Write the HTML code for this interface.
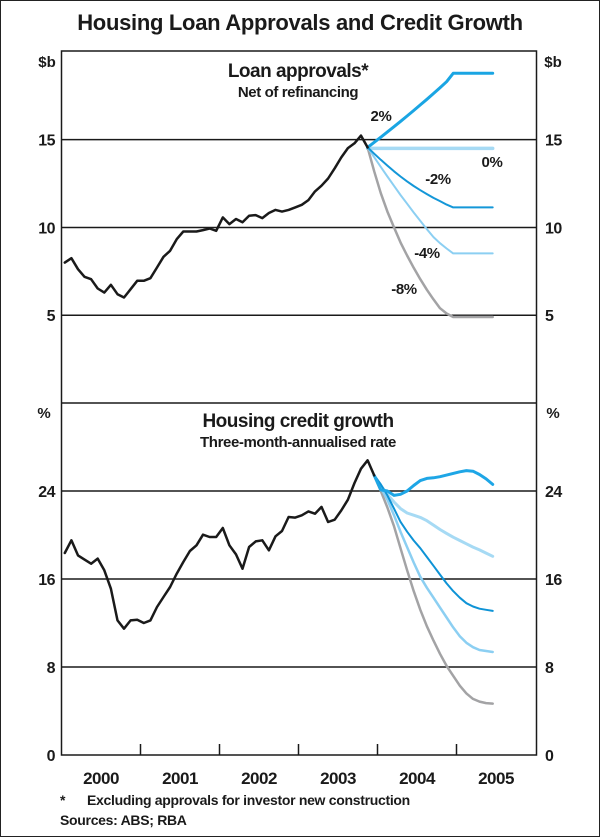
<!DOCTYPE html>
<html><head><meta charset="utf-8">
<style>
html,body{margin:0;padding:0;background:#fff;}
svg{display:block;font-family:"Liberation Sans",Arial,sans-serif;}
</style></head>
<body>
<svg id="chart" width="600" height="837" viewBox="0 0 600 837">
<rect x="0.5" y="0.5" width="599" height="836" fill="#fff" stroke="#222" stroke-width="1"/>
<text x="300" y="30" text-anchor="middle" font-size="22" font-weight="bold" letter-spacing="-0.3" fill="#1a1a1a">Housing Loan Approvals and Credit Growth</text>
<text x="298" y="77" text-anchor="middle" font-size="19" font-weight="bold" letter-spacing="-0.5" fill="#1a1a1a">Loan approvals*</text>
<text x="298" y="97" text-anchor="middle" font-size="15" font-weight="bold" letter-spacing="-0.4" fill="#1a1a1a">Net of refinancing</text>
<text x="298" y="427" text-anchor="middle" font-size="19" font-weight="bold" letter-spacing="-0.5" fill="#1a1a1a">Housing credit growth</text>
<text x="298" y="447" text-anchor="middle" font-size="15" font-weight="bold" letter-spacing="-0.4" fill="#1a1a1a">Three-month-annualised rate</text>
<text x="47" y="67" text-anchor="middle" font-size="15" font-weight="bold" fill="#1a1a1a">$b</text>
<text x="553" y="67" text-anchor="middle" font-size="15" font-weight="bold" fill="#1a1a1a">$b</text>
<text x="44" y="418" text-anchor="middle" font-size="15" font-weight="bold" fill="#1a1a1a">%</text>
<text x="553" y="418" text-anchor="middle" font-size="15" font-weight="bold" fill="#1a1a1a">%</text>
<g id="grid"></g>
<g id="series"></g>
<text x="381" y="121" text-anchor="middle" font-size="15" font-weight="bold" letter-spacing="-0.4" fill="#1a1a1a">2%</text>
<text x="492" y="167" text-anchor="middle" font-size="15" font-weight="bold" letter-spacing="-0.4" fill="#1a1a1a">0%</text>
<text x="438" y="184" text-anchor="middle" font-size="15" font-weight="bold" letter-spacing="-0.4" fill="#1a1a1a">-2%</text>
<text x="427" y="258" text-anchor="middle" font-size="15" font-weight="bold" letter-spacing="-0.4" fill="#1a1a1a">-4%</text>
<text x="404" y="294" text-anchor="middle" font-size="15" font-weight="bold" letter-spacing="-0.4" fill="#1a1a1a">-8%</text>
<rect x="61.5" y="51" width="475" height="704" fill="none" stroke="#1a1a1a" stroke-width="1.5"/>
<line x1="61.5" y1="403" x2="536.5" y2="403" stroke="#1a1a1a" stroke-width="1.5"/>
<text x="60" y="805" font-size="14" font-weight="bold" fill="#1a1a1a">*</text>
<text x="87" y="805" font-size="14" font-weight="bold" letter-spacing="-0.3" fill="#1a1a1a">Excluding approvals for investor new construction</text>
<text x="60" y="825" font-size="14" font-weight="bold" letter-spacing="-0.3" fill="#1a1a1a">Sources: ABS; RBA</text>
</svg>
<script>
const years = ["2000","2001","2002","2003","2004","2005"];
const loanTicks = [5,10,15];
const creditTicks = [0,8,16,24];
const loanHist = [8.0,8.25,7.62,7.19,7.05,6.52,6.29,6.73,6.20,6.01,6.48,6.96,6.96,7.11,7.72,8.33,8.67,9.33,9.77,9.77,9.77,9.85,9.94,9.81,10.57,10.19,10.48,10.29,10.67,10.70,10.53,10.82,11.0,10.9,11.0,11.14,11.29,11.56,12.05,12.38,12.79,13.37,13.99,14.52,14.79,15.23,14.56];
const loanP2 = [14.56,14.85,15.14,15.44,15.74,16.04,16.35,16.66,16.98,17.3,17.63,17.96,18.3,18.78,18.78,18.78,18.78,18.78,18.78,18.78];
const loanP0 = [14.5,14.5,14.5,14.5,14.5,14.5,14.5,14.5,14.5,14.5,14.5,14.5,14.5,14.5,14.5,14.5,14.5,14.5,14.5,14.5];
const loanM2 = [14.56,14.2,13.85,13.52,13.2,12.9,12.62,12.36,12.12,11.9,11.68,11.5,11.3,11.14,11.14,11.14,11.14,11.14,11.14,11.14];
const loanM4 = [14.56,14.0,13.45,12.9,12.37,11.85,11.35,10.85,10.37,9.9,9.45,9.1,8.8,8.52,8.52,8.52,8.52,8.52,8.52,8.52];
const loanM8 = [14.56,13.2,11.95,10.9,10.0,9.15,8.4,7.7,7.05,6.45,5.9,5.4,5.1,4.9,4.9,4.9,4.9,4.9,4.9,4.9];
const creditHist = [18.36,19.52,18.15,17.76,17.39,17.85,16.79,15.12,12.24,11.48,12.24,12.30,12.0,12.24,13.45,14.36,15.27,16.48,17.55,18.55,19.06,20.03,19.82,19.82,20.64,19.06,18.24,16.94,18.91,19.42,19.52,18.61,19.88,20.36,21.64,21.58,21.79,22.15,21.94,22.55,21.18,21.39,22.24,23.21,24.73,26.03,26.79,25.42];
const creditP2 = [25.42,24.1,24.0,23.6,23.7,24.0,24.5,24.95,25.15,25.2,25.3,25.45,25.6,25.75,25.85,25.8,25.5,25.1,24.6];
const creditP0 = [25.42,24.5,23.7,23.0,22.4,22.0,21.8,21.6,21.3,20.9,20.5,20.15,19.8,19.5,19.2,18.9,18.65,18.35,18.06];
const creditM2 = [25.42,24.6,23.6,22.4,21.2,20.3,19.5,18.8,18.0,17.2,16.4,15.6,14.9,14.3,13.8,13.5,13.3,13.2,13.1];
const creditM4 = [25.42,24.3,23.2,21.8,20.3,18.9,17.5,16.2,15.2,14.3,13.4,12.5,11.6,10.8,10.2,9.8,9.55,9.45,9.36];
const creditM8 = [25.42,24.0,22.5,20.8,18.8,16.8,14.9,13.2,11.7,10.4,9.2,8.1,7.2,6.3,5.6,5.1,4.85,4.72,4.67];

const NS="http://www.w3.org/2000/svg";
const X0=61.5, YW=79;
function xm(i){return X0+((i+0.5)/12)*YW;}
function yTop(v){return 403-v*(352/20.05);}
function yBot(v){return 755-v*(352/32);}
const grid=document.getElementById('grid');
const ser=document.getElementById('series');
function mk(tag,attrs,parent){const e=document.createElementNS(NS,tag);for(const k in attrs)e.setAttribute(k,attrs[k]);parent.appendChild(e);return e;}
function txt(x,y,s,anchor){const t=mk('text',{x:x,y:y,'font-size':16,'font-weight':'bold','letter-spacing':'-0.5','text-anchor':anchor,fill:'#1a1a1a'},grid);t.textContent=s;return t;}
loanTicks.forEach(v=>{
  const y=yTop(v);
  const l=mk('line',{x1:X0,x2:536.5,y1:y,y2:y,stroke:'#1a1a1a','stroke-width':1.5},grid);
  
  
  const a=txt(55,y+6,String(v),'end');
  
  
  const b=txt(545,y+6,String(v),'start');
  
  
});
creditTicks.forEach(v=>{
  const y=yBot(v);
  if(v>0){
    const l=mk('line',{x1:X0,x2:536.5,y1:y,y2:y,stroke:'#1a1a1a','stroke-width':1.5},grid);
    
    
  }
  const a=txt(55,y+6,String(v),'end');
  
  
  const b=txt(545,y+6,String(v),'start');
  
  
});
years.forEach((yr,k)=>{
  const xc=X0+(k+0.5)*YW;
  const t=txt(xc,784,yr,'middle');
  t.setAttribute('font-size','17');
  
  
  if(k>0){
    const x=X0+k*YW;
    const tk=mk('line',{x1:x,x2:x,y1:744,y2:755,stroke:'#1a1a1a','stroke-width':1.5},grid);
    
    
  }
});
function line(arr,start,yf,color,w,name){
  const pts=arr.map((v,i)=>xm(start+i).toFixed(1)+','+yf(v).toFixed(1)).join(' ');
  const p=mk('polyline',{points:pts,fill:'none',stroke:color,'stroke-width':w,'stroke-linejoin':'round','stroke-linecap':'round'},ser);
  
  
}
const ls=loanHist.length-1, cs=creditHist.length-1;
line(loanP0,ls,yTop,'#a6daf4',3.5,'loan-proj-0pct');
line(loanM8,ls,yTop,'#a3a3a5',2.5,'loan-proj-minus8pct');
line(loanM4,ls,yTop,'#8ccff2',2,'loan-proj-minus4pct');
line(loanM2,ls,yTop,'#1497d8',2,'loan-proj-minus2pct');
line(loanP2,ls,yTop,'#1aa5e3',3,'loan-proj-2pct');
line(loanHist,0,yTop,'#1a1a1a',2.5,'loan-approvals-line');
line(creditM8,cs,yBot,'#a3a3a5',2.5,'credit-proj-minus8pct');
line(creditM4,cs,yBot,'#8ccff2',2.5,'credit-proj-minus4pct');
line(creditP0,cs,yBot,'#a6daf4',3,'credit-proj-0pct');
line(creditM2,cs,yBot,'#0e93d6',2,'credit-proj-minus2pct');
line(creditP2,cs,yBot,'#1ea6e6',3,'credit-proj-2pct');
line(creditHist,0,yBot,'#1a1a1a',2.5,'credit-growth-line');
</script>
</body></html>
